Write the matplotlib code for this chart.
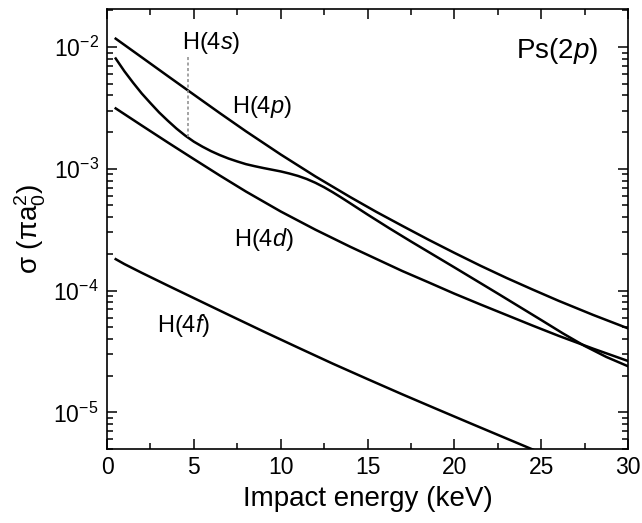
import matplotlib
matplotlib.use('Agg')
import matplotlib.pyplot as plt
from matplotlib.ticker import MultipleLocator, LogLocator, NullFormatter

plt.rcParams['font.family'] = 'Liberation Sans'
plt.rcParams['mathtext.fontset'] = 'custom'
plt.rcParams['mathtext.rm'] = 'Liberation Sans'
plt.rcParams['mathtext.it'] = 'Liberation Sans:italic'
plt.rcParams['mathtext.bf'] = 'Liberation Sans:bold'
plt.rcParams['axes.unicode_minus'] = False

# cross sections (pi a0^2) vs impact energy (keV)
e_4s = [0.5, 2, 3.5, 5, 6.5, 8, 10, 12, 14, 15.5, 17, 18.5, 20, 21.5, 23, 24.5, 26, 28, 30]
s_4s = [1.17e-2, 8.22e-3, 5.77e-3, 4.06e-3, 2.86e-3, 2.03e-3, 1.31e-3, 8.65e-4, 5.86e-4, 4.43e-4,
        3.40e-4, 2.62e-4, 2.04e-4, 1.60e-4, 1.27e-4, 1.02e-4, 8.24e-5, 6.3e-5, 4.89e-5]

e_4p = [0.5, 1.0, 1.5, 2.0, 2.5, 3.0, 3.5, 4.0, 4.5, 5.0, 5.5, 6.0, 6.5, 7.0, 7.5, 8.0, 8.5,
        9.0, 9.5, 10.0, 10.5, 11.0, 11.5, 12.0, 12.5, 13.0, 13.5, 14.0, 15.0, 16.25, 17.5,
        20, 22.5, 25, 26.25, 27.5, 28.75, 30]
s_4p = [8.04e-3, 6.32e-3, 5.09e-3, 4.15e-3, 3.46e-3, 2.90e-3, 2.48e-3, 2.138e-3, 1.873e-3,
        1.669e-3, 1.517e-3, 1.393e-3, 1.294e-3, 1.213e-3, 1.148e-3, 1.091e-3, 1.050e-3,
        1.014e-3, 9.82e-4, 9.51e-4, 9.14e-4, 8.73e-4, 8.24e-4, 7.67e-4, 7.05e-4, 6.41e-4,
        5.79e-4, 5.21e-4, 4.21e-4, 3.25e-4, 2.53e-4, 1.55e-4, 9.45e-5, 5.73e-5, 4.45e-5,
        3.51e-5, 2.85e-5, 2.39e-5]

e_4d = [0.5, 2, 3.5, 5, 6.5, 8, 10, 12, 14, 15.5, 17, 18.5, 20, 21.5, 23, 24.5, 26, 28, 30]
s_4d = [3.13e-3, 2.265e-3, 1.644e-3, 1.20e-3, 8.79e-4, 6.50e-4, 4.46e-4, 3.16e-4, 2.29e-4, 1.82e-4,
        1.447e-4, 1.17e-4, 9.43e-5, 7.69e-5, 6.30e-5, 5.16e-5, 4.25e-5, 3.33e-5, 2.64e-5]

e_4f = [0.5, 1, 2, 3.5, 5, 7, 9, 11, 13, 15, 17, 19, 21, 23, 25]
s_4f = [1.81e-4, 1.65e-4, 1.398e-4, 1.099e-4, 8.67e-5, 6.32e-5, 4.62e-5, 3.40e-5, 2.51e-5,
        1.875e-5, 1.406e-5, 1.062e-5, 8.04e-6, 6.10e-6, 4.63e-6]

# dotted marker under the H(4s) label
mark_e = [4.68, 4.68]
mark_s = [8.3e-3, 1.83e-3]

fig = plt.figure(figsize=(6.42, 5.23), dpi=100)
ax = fig.add_axes([0.1667, 0.1415, 0.8115, 0.8413])

for e, s in [(e_4s, s_4s), (e_4p, s_4p), (e_4d, s_4d), (e_4f, s_4f)]:
    ax.plot(e, s, color='black', lw=1.8, solid_joinstyle='round')
ax.plot(mark_e, mark_s, color='#8a8a8a', lw=1.1, ls=(0, (2, 1.6)))

ax.set_yscale('log')
ax.set_xlim(0, 30)
ax.set_ylim(5e-6, 2.05e-2)

ax.xaxis.set_major_locator(MultipleLocator(5))
ax.xaxis.set_minor_locator(MultipleLocator(2.5))
ax.yaxis.set_major_locator(LogLocator(base=10, numticks=10))
ax.yaxis.set_minor_locator(LogLocator(base=10, subs=range(2, 10), numticks=20))
ax.yaxis.set_minor_formatter(NullFormatter())

ax.tick_params(which='both', direction='in', top=True, right=True, width=1.1, labelsize=16.5)
ax.tick_params(which='major', length=7)
ax.tick_params(which='minor', length=4)
ax.tick_params(axis='x', pad=5)
ax.tick_params(axis='y', pad=6)
for sp in ax.spines.values():
    sp.set_linewidth(1.2)

ax.set_xlabel('Impact energy (keV)', fontsize=20, labelpad=5)
ax.set_ylabel(r'σ (πa$_0^2$)', fontsize=20, labelpad=4)

ax.text(5.99, 1.07e-2, r'H($\mathit{4s}$)', fontsize=17, ha='center', va='center')
ax.text(8.9, 3.22e-3, r'H($\mathit{4p}$)', fontsize=17, ha='center', va='center')
ax.text(9.04, 2.61e-4, r'H($\mathit{4d}$)', fontsize=17, ha='center', va='center')
ax.text(4.43, 5.14e-5, r'H($\mathit{4f}$)', fontsize=17, ha='center', va='center')
ax.text(25.94, 9.2e-3, r'Ps($\mathit{2p}$)', fontsize=20, ha='center', va='center')

fig.savefig('out.png', dpi=100)
